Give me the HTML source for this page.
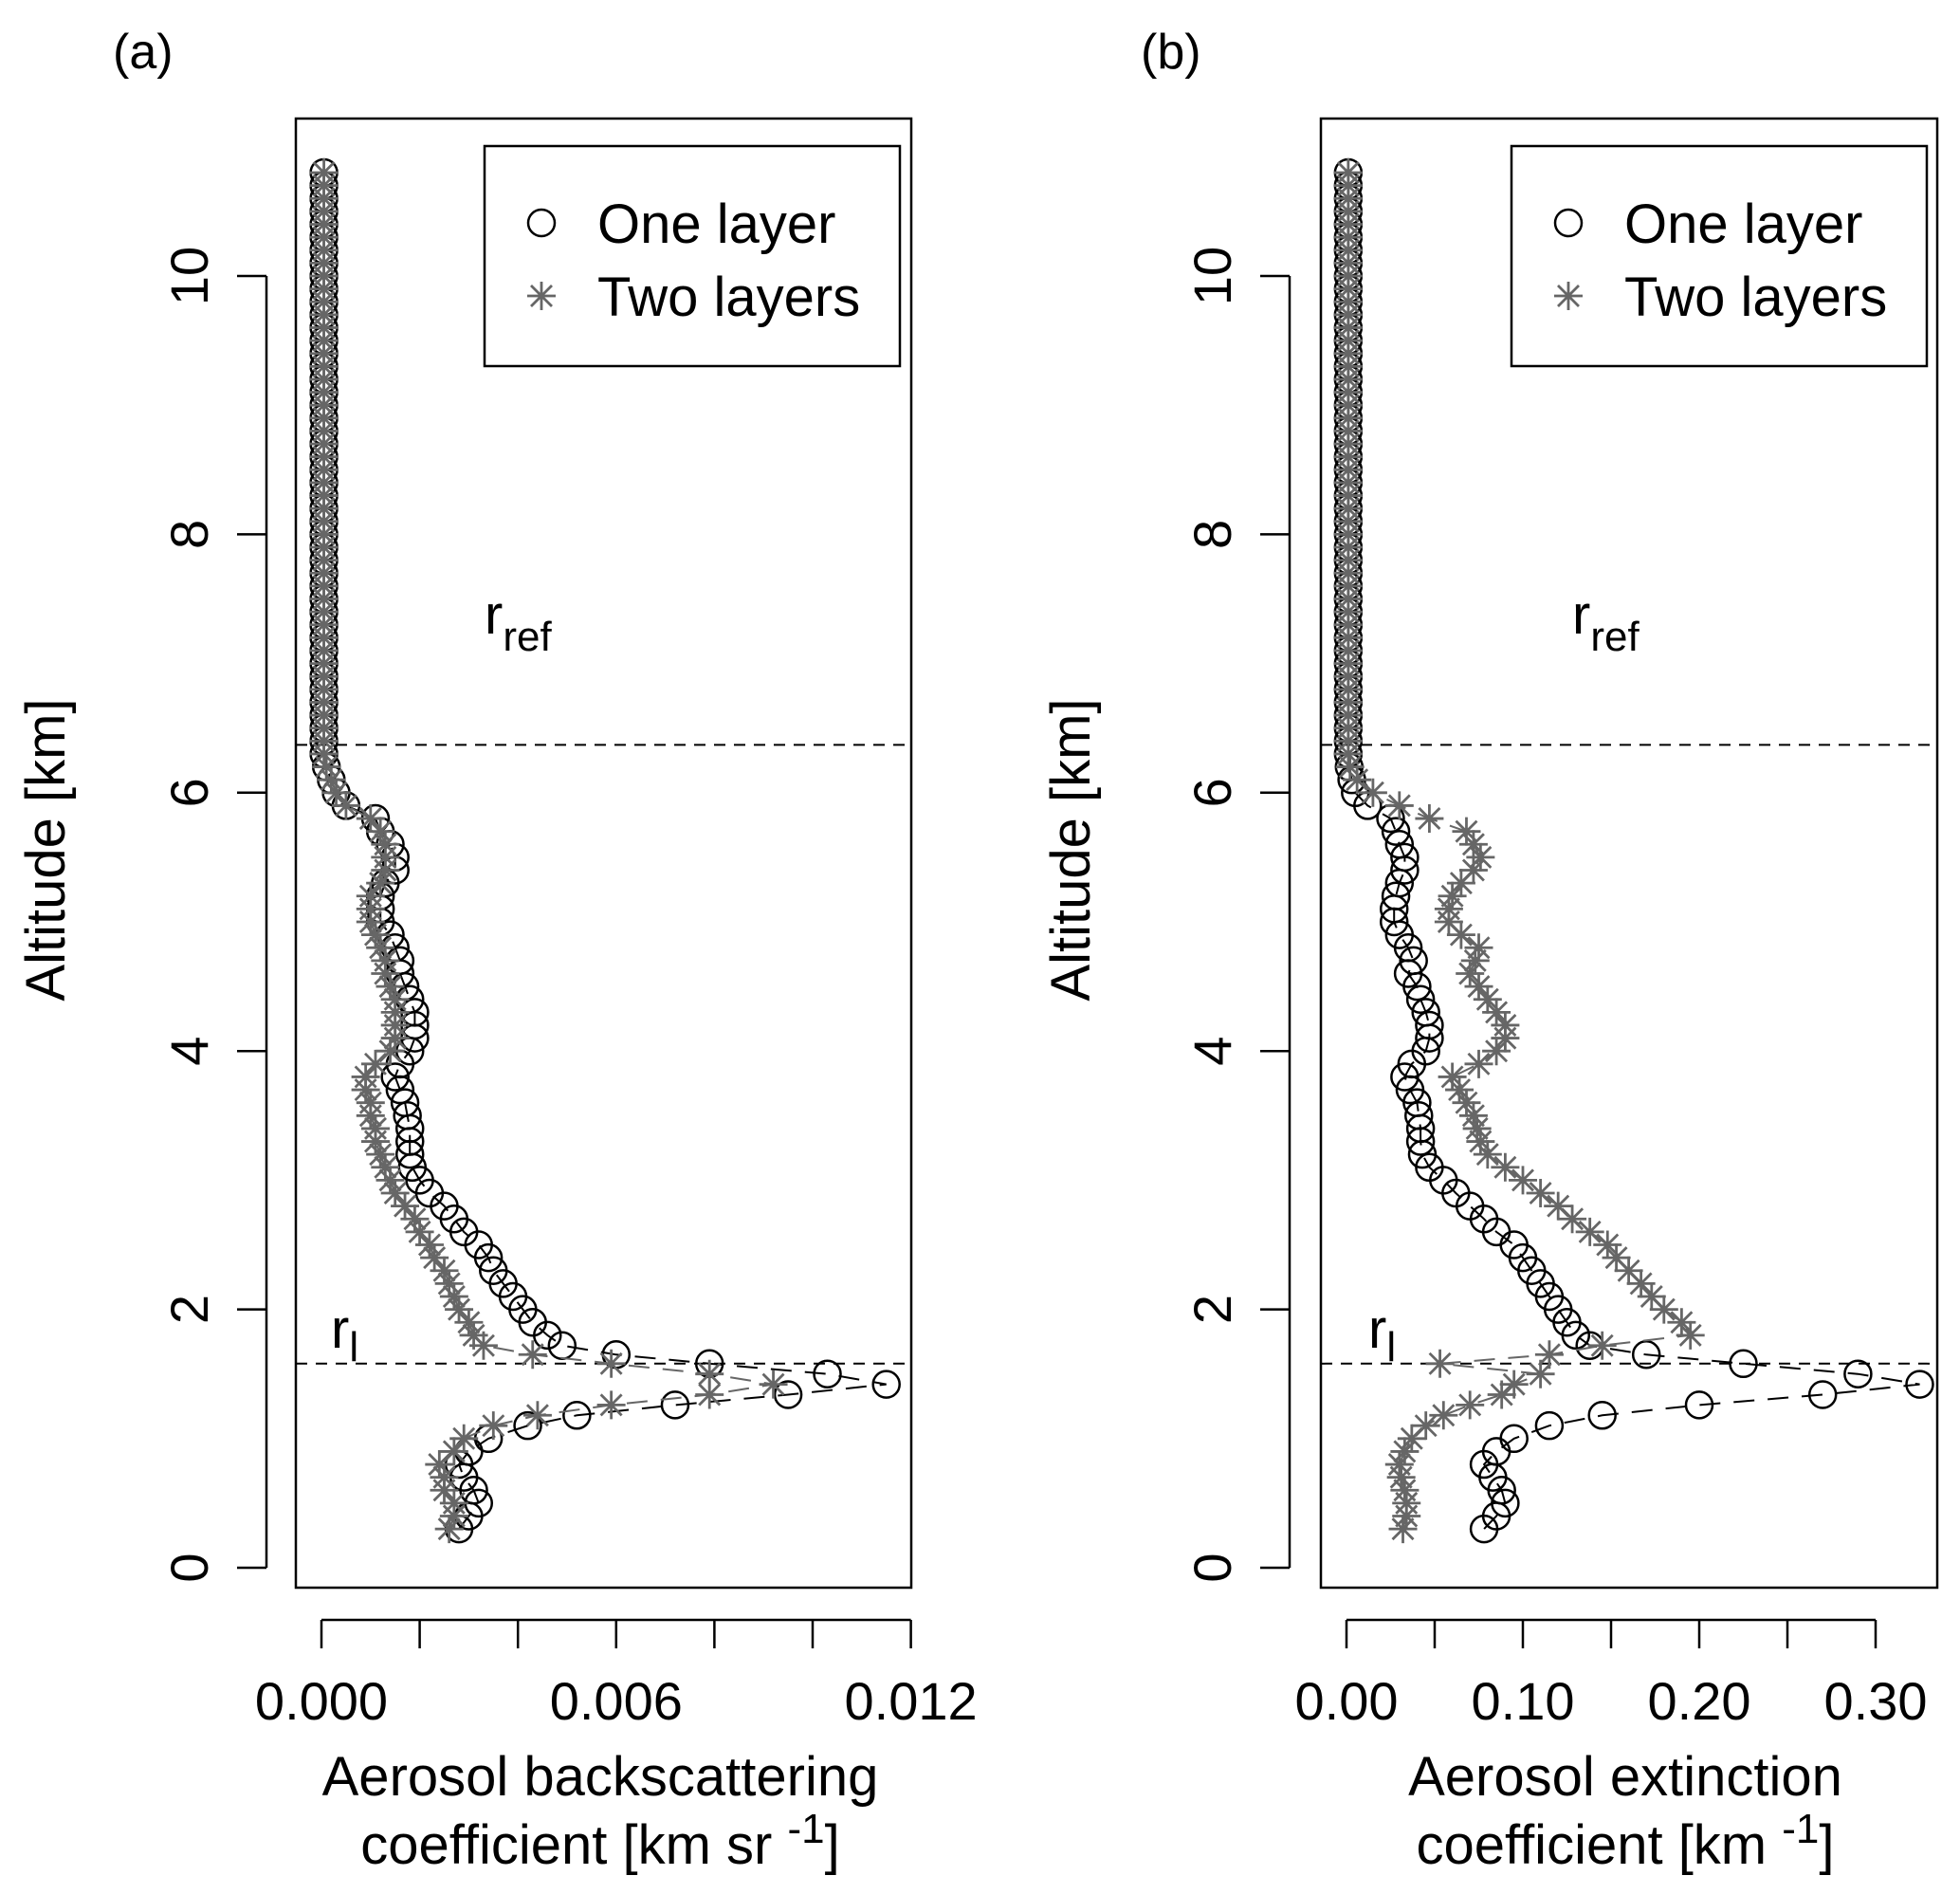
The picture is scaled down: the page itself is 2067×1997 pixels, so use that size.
<!DOCTYPE html>
<html><head><meta charset="utf-8"><style>
html,body{margin:0;padding:0;background:#fff}
svg{display:block}
text{font-family:"Liberation Sans",Arial,sans-serif;fill:#000}
</style></head><body>
<svg id="chart" width="2067" height="1997" viewBox="0 0 2067 1997" xmlns="http://www.w3.org/2000/svg">
<g id="pa"></g>
<g id="pb"></g>
</svg>
<script>
// Altitudes (km)
const altitudes = [0.3,0.4,0.5,0.6,0.7,0.8,0.9,1.0,1.1,1.18,1.26,1.34,1.42,1.5,1.58,1.65,1.72,
1.8,1.9,2.0,2.1,2.2,2.3,2.4,2.5,2.6,2.7,2.8,2.9,3.0,
3.1,3.2,3.3,3.4,3.5,3.6,3.7,3.8,3.9,4.0,
4.1,4.2,4.3,4.4,4.5,4.6,4.7,4.8,4.9,5.0,
5.1,5.2,5.3,5.4,5.5,5.6,5.7,5.8,5.9,6.0,6.1,6.2,
6.3,6.4,6.5,6.6,6.7,6.8,6.9,7.0,7.1,7.2,7.3,7.4,7.5,7.6,7.7,7.8,7.9,8.0,
8.1,8.2,8.3,8.4,8.5,8.6,8.7,8.8,8.9,9.0,9.1,9.2,9.3,9.4,9.5,9.6,9.7,9.8,9.9,10.0,
10.1,10.2,10.3,10.4,10.5,10.6,10.7,10.8];
// Panel (a) backscatter, units 1e-3 km^-1 sr^-1
const backOneLayer = [2.8,3.0,3.2,3.1,2.9,2.8,3.0,3.4,4.2,5.2,7.2,9.5,11.5,10.3,7.9,6.0,4.9,
4.6,4.3,4.1,3.9,3.7,3.5,3.4,3.2,2.9,2.7,2.5,2.2,2.0,
1.85,1.8,1.8,1.8,1.75,1.7,1.6,1.5,1.6,1.8,
1.9,1.9,1.9,1.8,1.7,1.6,1.6,1.5,1.4,1.2,
1.2,1.2,1.3,1.5,1.5,1.4,1.2,1.1,0.5,0.3,0.2,0.1,
0.05,0.05,0.05,0.05,0.05,0.05,0.05,0.05,0.05,0.05,0.05,0.05,0.05,0.05,0.05,0.05,0.05,0.05,
0.05,0.05,0.05,0.05,0.05,0.05,0.05,0.05,0.05,0.05,0.05,0.05,0.05,0.05,0.05,0.05,0.05,0.05,0.05,0.05,
0.05,0.05,0.05,0.05,0.05,0.05,0.05,0.05];
const backTwoLayers = [2.6,2.7,2.7,2.5,2.5,2.4,2.7,2.9,3.5,4.4,5.9,7.9,9.2,7.9,5.9,4.3,3.3,
3.1,3.0,2.8,2.7,2.6,2.5,2.3,2.2,2.0,1.9,1.7,1.5,1.4,
1.3,1.2,1.1,1.1,1.0,1.0,0.9,0.9,1.1,1.4,
1.5,1.5,1.5,1.5,1.4,1.3,1.3,1.2,1.1,1.0,
1.0,1.0,1.2,1.3,1.3,1.3,1.2,1.0,0.5,0.3,0.2,0.1,
0.05,0.05,0.05,0.05,0.05,0.05,0.05,0.05,0.05,0.05,0.05,0.05,0.05,0.05,0.05,0.05,0.05,0.05,
0.05,0.05,0.05,0.05,0.05,0.05,0.05,0.05,0.05,0.05,0.05,0.05,0.05,0.05,0.05,0.05,0.05,0.05,0.05,0.05,
0.05,0.05,0.05,0.05,0.05,0.05,0.05,0.05];
// Panel (b) extinction, units 0.01 km^-1
const extOneLayer = [7.8,8.5,9.0,8.8,8.3,7.8,8.5,9.5,11.5,14.5,20,27,32.5,29,22.5,17,13.8,
13,12.5,12,11.5,11,10.5,10,9.5,8.5,7.8,7,6.2,5.5,
4.7,4.3,4.2,4.2,4.1,4.0,3.6,3.3,3.7,4.5,
4.7,4.7,4.5,4.2,4.0,3.5,3.8,3.5,3.0,2.7,
2.7,2.8,3.0,3.3,3.3,3.0,2.8,2.5,1.2,0.5,0.3,0.15,
0.1,0.1,0.1,0.1,0.1,0.1,0.1,0.1,0.1,0.1,0.1,0.1,0.1,0.1,0.1,0.1,0.1,0.1,
0.1,0.1,0.1,0.1,0.1,0.1,0.1,0.1,0.1,0.1,0.1,0.1,0.1,0.1,0.1,0.1,0.1,0.1,0.1,0.1,
0.1,0.1,0.1,0.1,0.1,0.1,0.1,0.1];
const extTwoLayers = [3.2,3.4,3.4,3.3,3.1,3.0,3.3,3.7,4.5,5.5,7.0,8.8,9.5,11,5.3,11.5,14.5,
19.5,19,18,17.3,16.7,16,15.3,14.8,13.8,12.8,12,11,10,
9,8,7.6,7.4,7.2,6.8,6.4,6.0,7.5,8.5,
9,9,8.5,8,7.5,7,7.3,7.5,6.5,5.8,
5.8,6.0,6.5,7.2,7.6,7.2,6.8,4.7,3.0,1.5,0.6,0.2,
0.1,0.1,0.1,0.1,0.1,0.1,0.1,0.1,0.1,0.1,0.1,0.1,0.1,0.1,0.1,0.1,0.1,0.1,
0.1,0.1,0.1,0.1,0.1,0.1,0.1,0.1,0.1,0.1,0.1,0.1,0.1,0.1,0.1,0.1,0.1,0.1,0.1,0.1,
0.1,0.1,0.1,0.1,0.1,0.1,0.1,0.1];
const yTicks = [0,2,4,6,8,10];
const backTicks = [0,2,4,6,8,10,12];
const backTickLabels = ["0.000","","","0.006","","","0.012"];
const extTicks = [0,5,10,15,20,25,30];
const extTickLabels = ["0.00","","0.10","","0.20","","0.30"];
const refAltitude = 6.37;
const layerAltitude = 1.58;

const NS = "http://www.w3.org/2000/svg";
function el(parent, tag, attrs, txt){
  const e = document.createElementNS(NS, tag);
  for (const k in attrs) e.setAttribute(k, attrs[k]);
  if (txt !== undefined) e.textContent = txt;
  parent.appendChild(e); return e;
}
const yAlt = a => 1653 - a * 136.2;

function panel(g, cfg){
  const xs = cfg.xs;
  const box = el(g,'rect',{x:cfg.left,y:125,width:cfg.right-cfg.left,height:1549,fill:'none',stroke:'#000','stroke-width':2.5});
  
  
  const ya = el(g,'g',{});
  
  
  el(ya,'line',{x1:cfg.yAxisX,x2:cfg.yAxisX,y1:yAlt(0),y2:yAlt(10),stroke:'#000','stroke-width':2.5});
  yTicks.forEach(t=>{
    el(ya,'line',{x1:cfg.yAxisX-31,x2:cfg.yAxisX,y1:yAlt(t),y2:yAlt(t),stroke:'#000','stroke-width':2.5});
    const lb = el(ya,'text',{x:0,y:0,'font-size':56,'text-anchor':'middle',transform:`translate(${cfg.yAxisX-62},${yAlt(t)}) rotate(-90)`},String(t));
    
    
  });
  const yt = el(g,'text',{x:0,y:0,'font-size':58,'text-anchor':'middle',transform:`translate(${cfg.yTitleX},896) rotate(-90)`},'Altitude [km]');
  
  
  const xa = el(g,'g',{});
  
  
  el(xa,'line',{x1:xs(cfg.ticks[0]),x2:xs(cfg.ticks[cfg.ticks.length-1]),y1:1708,y2:1708,stroke:'#000','stroke-width':2.5});
  cfg.ticks.forEach((t,i)=>{
    el(xa,'line',{x1:xs(t),x2:xs(t),y1:1708,y2:1738,stroke:'#000','stroke-width':2.5});
    if (cfg.labels[i]) {
      const lb = el(xa,'text',{x:xs(t),y:1813,'font-size':56,'text-anchor':'middle'},cfg.labels[i]);
      
      
    }
  });
  const xt1 = el(g,'text',{x:cfg.titleX,y:1893,'font-size':58,'text-anchor':'middle'},cfg.title1);
  
  
  const xt2 = el(g,'text',{x:cfg.titleX,y:1965,'font-size':58,'text-anchor':'middle'});
  
  
  xt2.innerHTML = cfg.title2;
  [refAltitude, layerAltitude].forEach(a=>{
    const l = el(g,'line',{x1:cfg.left,x2:cfg.right,y1:yAlt(a),y2:yAlt(a),stroke:'#000','stroke-width':2,'stroke-dasharray':'12 9'});
    
    
  });
  const rr = el(g,'text',{x:cfg.rrefX,y:668,'font-size':58});
  rr.innerHTML = 'r<tspan font-size="44" dy="18">ref</tspan>';
  
  
  const rl = el(g,'text',{x:cfg.rlX,y:1421,'font-size':58});
  rl.innerHTML = 'r<tspan font-size="44" dy="14">l</tspan>';
  
  
  const drawSeries = (vals, color, kind, name) => {
    const sg = el(g,'g',{});
    
    
    const pts = vals.map((v,i)=>`${xs(v).toFixed(1)},${yAlt(altitudes[i]).toFixed(1)}`).join(' ');
    el(sg,'polyline',{points:pts,fill:'none',stroke:color,'stroke-width':2,'stroke-dasharray':'22 14'});
    vals.forEach((v,i)=>{
      const x = xs(v), y = yAlt(altitudes[i]);
      if (kind==='circle') {
        const c = el(sg,'circle',{cx:x,cy:y,r:14,fill:'none',stroke:color,'stroke-width':2.5});
        
        
      } else {
        const s = el(sg,'path',{d:`M${x-15},${y}H${x+15}M${x},${y-15}V${y+15}M${x-11},${y-11}L${x+11},${y+11}M${x-11},${y+11}L${x+11},${y-11}`,stroke:color,'stroke-width':2.8,fill:'none'});
        
        
      }
    });
  };
  drawSeries(cfg.one,'#000','circle','series-one-layer');
  drawSeries(cfg.two,'#666','star','series-two-layers');
  const lg = el(g,'g',{});
  
  
  el(lg,'rect',{x:cfg.legX,y:154,width:438,height:232,fill:'#fff',stroke:'#000','stroke-width':2.5});
  const lx = cfg.legX+60;
  el(lg,'circle',{cx:lx,cy:235,r:14,fill:'none',stroke:'#000','stroke-width':2.5});
  const t1 = el(lg,'text',{x:cfg.legX+119,y:256,'font-size':58},'One layer');
  
  
  el(lg,'path',{d:`M${lx-15},312H${lx+15}M${lx},297V327M${lx-11},301L${lx+11},323M${lx-11},323L${lx+11},301`,stroke:'#666','stroke-width':2.8});
  const t2 = el(lg,'text',{x:cfg.legX+119,y:333,'font-size':58},'Two layers');
  
  
  const pl = el(g,'text',{x:cfg.panelLabelX,y:72,'font-size':52},cfg.panelLabel);
  
  
}

panel(document.getElementById('pa'),{
  xs: v => 339 + v*51.8, left:312, right:961, yAxisX:281, yTitleX:68,
  ticks:backTicks, labels:backTickLabels, titleX:633,
  title1:'Aerosol backscattering',
  title2:'coefficient [km sr <tspan font-size="44" dy="-22">-1</tspan><tspan dy="22">]</tspan>',
  rrefX:511, rlX:349, one:backOneLayer, two:backTwoLayers, legX:511,
  panelLabel:'(a)', panelLabelX:119
});
panel(document.getElementById('pb'),{
  xs: v => 1420 + v*18.6, left:1393, right:2043, yAxisX:1360, yTitleX:1149,
  ticks:extTicks, labels:extTickLabels, titleX:1714,
  title1:'Aerosol extinction',
  title2:'coefficient [km <tspan font-size="44" dy="-22">-1</tspan><tspan dy="22">]</tspan>',
  rrefX:1658, rlX:1443, one:extOneLayer, two:extTwoLayers, legX:1594,
  panelLabel:'(b)', panelLabelX:1203
});
</script>
</body></html>
